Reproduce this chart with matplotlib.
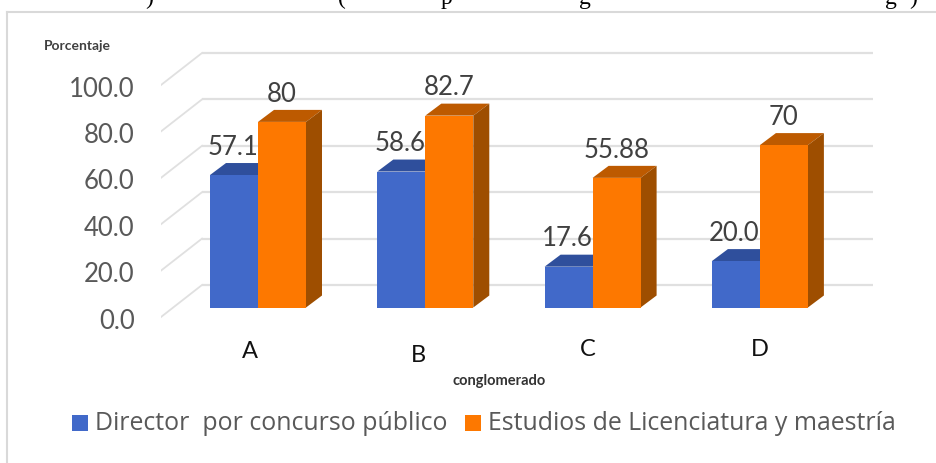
import matplotlib
matplotlib.use('Agg')
import matplotlib.pyplot as plt
from matplotlib.patches import Polygon, Rectangle

categories = ['A', 'B', 'C', 'D']
director = [57.1, 58.6, 17.6, 20.0]
estudios = [80, 82.7, 55.88, 70]
director_labels = ['57.1', '58.6', '17.6', '20.0']
estudios_labels = ['80', '82.7', '55.88', '70']
grid_values = [0, 20, 40, 60, 80, 100]
grid_labels = ['0.0', '20.0', '40.0', '60.0', '80.0', '100.0']

BLUE = '#4169c9'
BLUE_TOP = '#2f4f9c'
ORANGE = '#fd7800'
ORANGE_TOP = '#bd5a00'
ORANGE_SIDE = '#9e4e00'
GREY = '#595959'
W, H = 937, 463
PX_X = 167.3   # px per category
PX_Y = 2.32    # px per percent
BAR_W = 48 / PX_X
DX = 16 / PX_X
DY = 12 / PX_Y
BACK = 22.5 / PX_Y   # back wall, relative to the bar front
WALL_X = 41 / PX_X
WALL_Y = 32 / PX_Y

plt.rcParams['font.family'] = ['Lato', 'DejaVu Sans']

fig = plt.figure(figsize=(W / 100, H / 100), dpi=100)
# axes box spans the wall from x=161 to x=873 px
left, right = 161, 873
ax = fig.add_axes([left / W, 0, (right - left) / W, 1])
ax.set_xlim((left - 258) / PX_X, (right - 258) / PX_X)
ax.set_ylim((307.5 - H) / PX_Y, 307.5 / PX_Y)
for s in ax.spines.values():
    s.set_visible(False)
ax.patch.set_alpha(0)

# grid on back wall and the slanted wall lines
x_back = (202 - 258) / PX_X
x_end = (873 - 258) / PX_X
for v in grid_values:
    y = v + BACK
    ax.plot([x_back, x_end], [y, y], color='#e0e0e0', lw=1.6, zorder=1, solid_capstyle='butt')
    ax.plot([x_back - WALL_X, x_back], [y - WALL_Y, y], color='#e0e0e0', lw=1.3, zorder=1)


def draw_bar(xc, val, front, top, side, z):
    x0, x1 = xc - BAR_W, xc
    ax.add_patch(Rectangle((x0, 0), BAR_W, val, facecolor=front, edgecolor='none', zorder=z + 1))
    ax.add_patch(Polygon([(x0, val), (x1, val), (x1 + DX, val + DY), (x0 + DX, val + DY)],
                         facecolor=top, edgecolor='none', zorder=z))
    if side:
        ax.add_patch(Polygon([(x1, 0), (x1 + DX, DY), (x1 + DX, val + DY), (x1, val)],
                             facecolor=side, edgecolor='none', zorder=z))


for i in range(len(categories)):
    draw_bar(i, director[i], BLUE, BLUE_TOP, None, 2)
    draw_bar(i + BAR_W, estudios[i], ORANGE, ORANGE_TOP, ORANGE_SIDE, 5)
    # labels stay behind the orange bar, as in the reference
    ax.text(i - BAR_W / 2 - 0.008, director[i] + 12, director_labels[i], ha='center', va='center',
            fontsize=18.5, color='#404040', zorder=4)
    ax.text(i + BAR_W / 2, estudios[i] + 12, estudios_labels[i], ha='center', va='center',
            fontsize=18.5, color='#404040', zorder=7)

# value axis: labels sit at the front edge of the side wall
ax.set_xticks([])
ax.set_yticks([v + BACK - WALL_Y - 0.7 for v in grid_values], grid_labels)
ax.tick_params(axis='y', length=0, pad=19, labelsize=18.5, labelcolor=GREY)

# category labels (scanned in, not level)
cat_px = [(250, 352), (418, 356), (588, 350), (760, 350)]
for name, (px, py) in zip(categories, cat_px):
    fig.text(px / W, 1 - py / H, name, ha='center', va='center', fontsize=17, color='#111111')
# the C is cut off at the bottom in the reference
fig.add_artist(Rectangle((575 / W, 1 - 362 / H), 26 / W, 5 / H, transform=fig.transFigure,
                         facecolor='white', edgecolor='none', zorder=10))

fig.text(77 / W, 1 - 46 / H, 'Porcentaje', ha='center', va='center', fontsize=10, color='#404040', fontweight='bold')
fig.text(499.5 / W, 1 - 381 / H, 'conglomerado', ha='center', va='center', fontsize=10.5, color='#333333', fontweight='bold')

# legend
fig.patches.append(Rectangle((72 / W, 1 - 431 / H), 16 / W, 16 / H, transform=fig.transFigure, facecolor=BLUE))
fig.patches.append(Rectangle((465 / W, 1 - 431 / H), 16 / W, 16 / H, transform=fig.transFigure, facecolor=ORANGE))
fig.text(95 / W, 1 - 423 / H, 'Director  por concurso público', ha='left', va='center',
         fontsize=17.9, color=GREY, family='Open Sans')
fig.text(488 / W, 1 - 423 / H, 'Estudios de Licenciatura y maestría', ha='left', va='center',
         fontsize=17.9, color=GREY, family='Open Sans')

# chart frame from the scanned page
fig.add_artist(plt.Line2D([7 / W, 7 / W], [0, 1 - 12 / H], color='#d9d9d9', lw=1.5))
fig.add_artist(plt.Line2D([7 / W, 1], [1 - 12 / H, 1 - 12 / H], color='#d9d9d9', lw=1.5))

# line of page text above the chart, only the descenders show
for ch, px in zip([')', '(', 'p', 'g', 'g', ')'], [149, 342, 447, 585, 891, 913]):
    fig.text(px / W, 1 - 4 / H, ch, ha='center', va='baseline', fontsize=17,
             color='black', family='Liberation Serif')

fig.savefig('out.png', dpi=100)
